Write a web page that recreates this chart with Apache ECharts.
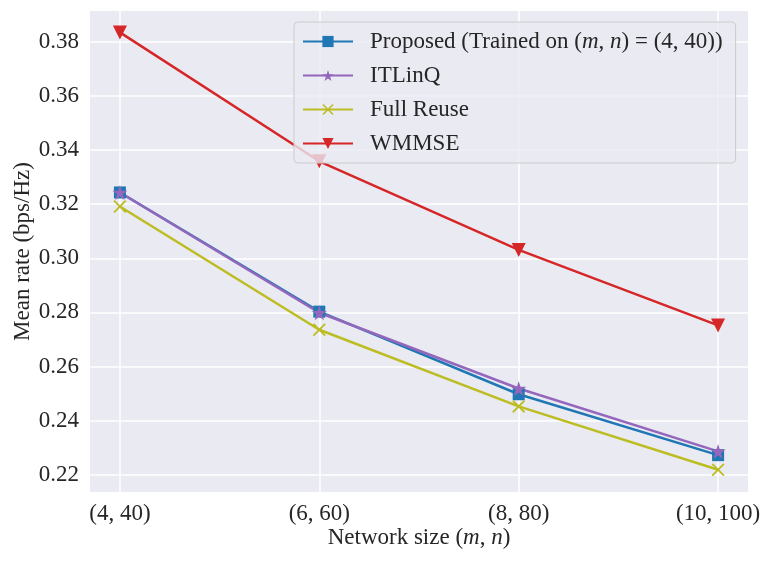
<!DOCTYPE html>
<html>
<head>
<meta charset="utf-8">
<script src="https://cdn.jsdelivr.net/npm/echarts@6/dist/echarts.min.js"></script>
<style>
html,body{margin:0;padding:0;background:#fff;}
#c{width:773px;height:562px;}
</style>
</head>
<body>
<div id="c"></div>
<script>
var xLabels = ['(4, 40)', '(6, 60)', '(8, 80)', '(10, 100)'];
var xPositions = [0, 1, 2, 3];
var seriesNames = ['Proposed', 'ITLinQ', 'Full Reuse', 'WMMSE'];
var proposed = [0.3243, 0.2803, 0.2498, 0.2273];
var itlinq = [0.3243, 0.2799, 0.2519, 0.2287];
var fullReuse = [0.3191, 0.2736, 0.2453, 0.2219];
var wmmse = [0.3834, 0.3358, 0.3031, 0.2752];
var yTicks = [0.22, 0.24, 0.26, 0.28, 0.30, 0.32, 0.34, 0.36, 0.38];

var FONT = 'Liberation Serif';
var FS = 23;
var TXT = '#262626';
var starPath = 'path://M10,0 L12.245,6.91 L19.511,6.91 L13.633,11.18 L15.878,18.09 L10,13.82 L4.122,18.09 L6.367,11.18 L0.489,6.91 L7.755,6.91 Z';
var xPath = 'path://M0,1 L1,0 L5,4 L9,0 L10,1 L6,5 L10,9 L9,10 L5,6 L1,10 L0,9 L4,5 Z';

function pts(arr){ return arr.map(function(v,i){ return [xPositions[i], v]; }); }

var chart = echarts.init(document.getElementById('c'), null, {renderer:'canvas'});
var italic = {fontFamily: FONT, fontStyle: 'italic', fontSize: FS, color: TXT};

chart.setOption({
  animation: false,
  backgroundColor: '#ffffff',
  grid: {left: 90, right: 25, top: 11, bottom: 70, show: true, backgroundColor: '#EAEAF2', borderWidth: 0,
         containLabel: false, outerBoundsMode: 'none'},
  xAxis: {
    type: 'value', min: -0.15, max: 3.15,
    axisLine: {show: false},
    axisTick: {show: false, customValues: xPositions},
    splitLine: {show: true, lineStyle: {color: '#ffffff', width: 1.5}},
    axisLabel: {
      customValues: xPositions, margin: 10,
      fontFamily: FONT, fontSize: FS, color: TXT,
      formatter: function(v){ var r = Math.round(v); return xLabels[r] || ''; }
    },
    name: 'Network size ({i|m}, {i|n})', nameLocation: 'middle', nameGap: 34, nameMoveOverlap: false,
    nameTextStyle: {fontFamily: FONT, fontSize: FS, color: TXT, rich: {i: italic}}
  },
  yAxis: {
    type: 'value', min: 0.2137, max: 0.3913,
    axisLine: {show: false},
    axisTick: {show: false, customValues: yTicks},
    splitLine: {show: true, lineStyle: {color: '#ffffff', width: 1.5}},
    axisLabel: {
      customValues: yTicks, margin: 11,
      fontFamily: FONT, fontSize: FS, color: TXT,
      formatter: function(v){ return v.toFixed(2); }
    },
    name: 'Mean rate (bps/Hz)', nameLocation: 'middle', nameGap: 56, nameMoveOverlap: false,
    nameTextStyle: {fontFamily: FONT, fontSize: FS, color: TXT}
  },
  legend: {
    orient: 'vertical', left: 294, top: 22,
    padding: [8, 13, 8, 8], itemGap: 11, itemWidth: 50, itemHeight: 14,
    backgroundColor: 'rgba(234,234,242,0.8)', borderColor: '#cccccc', borderWidth: 1, borderRadius: 4,
    data: seriesNames,
    textStyle: {fontFamily: FONT, fontSize: FS, color: TXT, rich: {i: italic, s: {width: 12}}},
    formatter: function(name){
      if (name === 'Proposed') return '{s|}Proposed (Trained on ({i|m}, {i|n}) = (4, 40))';
      return '{s|}' + name;
    }
  },
  series: [
    {name: seriesNames[0], type: 'line', data: pts(proposed), color: '#1f77b4',
     symbol: 'rect', symbolSize: 12, lineStyle: {width: 2.5}},
    {name: seriesNames[1], type: 'line', data: pts(itlinq), color: '#9467bd',
     symbol: starPath, symbolSize: 15, lineStyle: {width: 2.5}},
    {name: seriesNames[2], type: 'line', data: pts(fullReuse), color: '#bcbd22',
     symbol: xPath, symbolSize: 13, lineStyle: {width: 2.5}},
    {name: seriesNames[3], type: 'line', data: pts(wmmse), color: '#d62728',
     symbol: 'triangle', symbolRotate: 180, symbolSize: 14, lineStyle: {width: 2.5}}
  ]
});
</script>
</body>
</html>
